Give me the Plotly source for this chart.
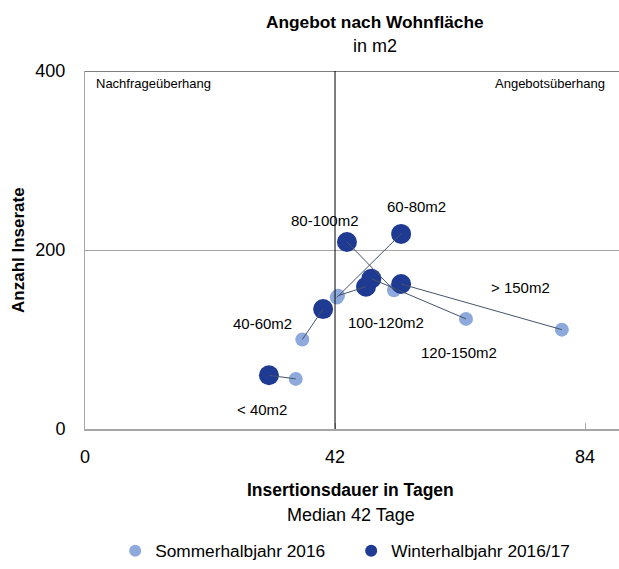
import plotly.graph_objects as go

# Kategorien Wohnfläche
kategorien = ['< 40m2', '40-60m2', '60-80m2', '80-100m2', '100-120m2', '120-150m2', '> 150m2']

# Sommerhalbjahr 2016: Insertionsdauer (Tage) / Anzahl Inserate
sommer_tage = [35.4, 36.5, 42.3, 51.9, 42.5, 64.0, 80.1]
sommer_anzahl = [56, 100, 147, 155, 149, 123, 111]

# Winterhalbjahr 2016/17
winter_tage = [30.9, 40.0, 53.1, 44.0, 47.2, 48.1, 53.1]
winter_anzahl = [60, 134, 218, 209, 159, 168, 162]

MEDIAN_TAGE = 42
X_TICKS = [0, 42, 84]
Y_TICKS = [0, 200, 400]

# Label-Verschiebung in Pixeln relativ zum Winterpunkt
label_shift = [(-7, -34), (-61, -14), (15, 27), (-22, 21), (20, -36), (88, -74), (119, -3)]

FONT = 'Liberation Sans, Arial, sans-serif'
HELL = '#8EAADC'
DUNKEL = '#1F3A93'
LINIE = '#44546A'
GRAU = '#A6A6A6'

fig = go.Figure()

fig.add_trace(go.Scatter(
    x=sommer_tage, y=sommer_anzahl, mode='markers', name='Sommerhalbjahr 2016',
    marker=dict(color=HELL, size=14, line=dict(width=0)),
))
fig.add_trace(go.Scatter(
    x=winter_tage, y=winter_anzahl, mode='markers', name='Winterhalbjahr 2016/17',
    marker=dict(color=DUNKEL, size=20, line=dict(width=0)),
))

# Verbindungslinien Sommer -> Winter
for i, k in enumerate(kategorien):
    fig.add_trace(go.Scatter(
        x=[sommer_tage[i], winter_tage[i]], y=[sommer_anzahl[i], winter_anzahl[i]],
        mode='lines', line=dict(color=LINIE, width=1), showlegend=False, hoverinfo='skip',
    ))
    dx, dy = label_shift[i]
    fig.add_annotation(
        x=winter_tage[i], y=winter_anzahl[i], text=k, showarrow=False,
        xanchor='center', yanchor='middle',
        xshift=dx, yshift=dy, font=dict(size=15, color='black', family=FONT),
    )

fig.add_shape(type='line', xref='x', yref='y', x0=MEDIAN_TAGE, x1=MEDIAN_TAGE, y0=0, y1=400,
              line=dict(color='black', width=1))
fig.add_shape(type='line', xref='x domain', yref='y', x0=0, x1=1, y0=400, y1=400,
              line=dict(color='black', width=1))

fig.add_annotation(xref='paper', yref='paper', x=0, y=1, xanchor='left', yanchor='top',
                   xshift=9, yshift=-3, text='Nachfrageüberhang', showarrow=False,
                   font=dict(size=13, family=FONT, color='black'))
fig.add_annotation(xref='paper', yref='paper', x=0.978, y=1, xanchor='right', yanchor='top',
                   yshift=-3, text='Angebotsüberhang', showarrow=False,
                   font=dict(size=13, family=FONT, color='black'))

# Titel und Achsentitel
fig.add_annotation(xref='paper', yref='paper', x=0.543, y=1, xanchor='center', yanchor='middle',
                   yshift=49, text='<b>Angebot nach Wohnfläche</b>', showarrow=False,
                   font=dict(size=17.3, family=FONT, color='black'))
fig.add_annotation(xref='paper', yref='paper', x=0.543, y=1, xanchor='center', yanchor='middle',
                   yshift=25, text='in m2', showarrow=False,
                   font=dict(size=18, family=FONT, color='black'))
fig.add_annotation(xref='paper', yref='paper', x=0.498, y=0, xanchor='center', yanchor='middle',
                   yshift=-61, text='<b>Insertionsdauer in Tagen</b>', showarrow=False,
                   font=dict(size=17.5, family=FONT, color='black'))
fig.add_annotation(xref='paper', yref='paper', x=0.498, y=0, xanchor='center', yanchor='middle',
                   yshift=-86, text='Median 42 Tage', showarrow=False,
                   font=dict(size=18, family=FONT, color='black'))
fig.add_annotation(xref='paper', yref='paper', x=-0.1255, y=0.5, xanchor='center', yanchor='middle',
                   textangle=-90, text='<b>Anzahl Inserate</b>', showarrow=False,
                   font=dict(size=17, family=FONT, color='black'))

fig.update_layout(
    width=619, height=569,
    margin=dict(l=85, r=0, t=71, b=135),
    plot_bgcolor='white', paper_bgcolor='white',
    font=dict(family=FONT, size=18, color='black'),
    showlegend=True,
    legend=dict(orientation='h', x=0.0565, xanchor='left', y=-0.342, yanchor='middle',
                itemsizing='constant', entrywidth=191, font=dict(size=17.3),
                itemclick=False),
)
fig.update_xaxes(
    range=[0, 89.7], tickvals=X_TICKS, showgrid=False, zeroline=False,
    showline=True, linecolor=GRAU, linewidth=2,
    ticks='inside', ticklen=6, tickcolor=GRAU, ticklabelstandoff=10,
)
fig.update_yaxes(
    range=[0, 400], tickvals=Y_TICKS, showgrid=True, gridcolor=GRAU, gridwidth=1,
    zeroline=False, showline=True, linecolor=GRAU, linewidth=1,
    ticks='', ticklabelstandoff=15,
)

# Seitenrand des Browsers entfernen, damit die Grafik exakt 619x569 füllt
fig.write_html('out.html', config={'displayModeBar': False},
               post_script="document.body.style.margin='0';document.body.style.overflow='hidden';")
